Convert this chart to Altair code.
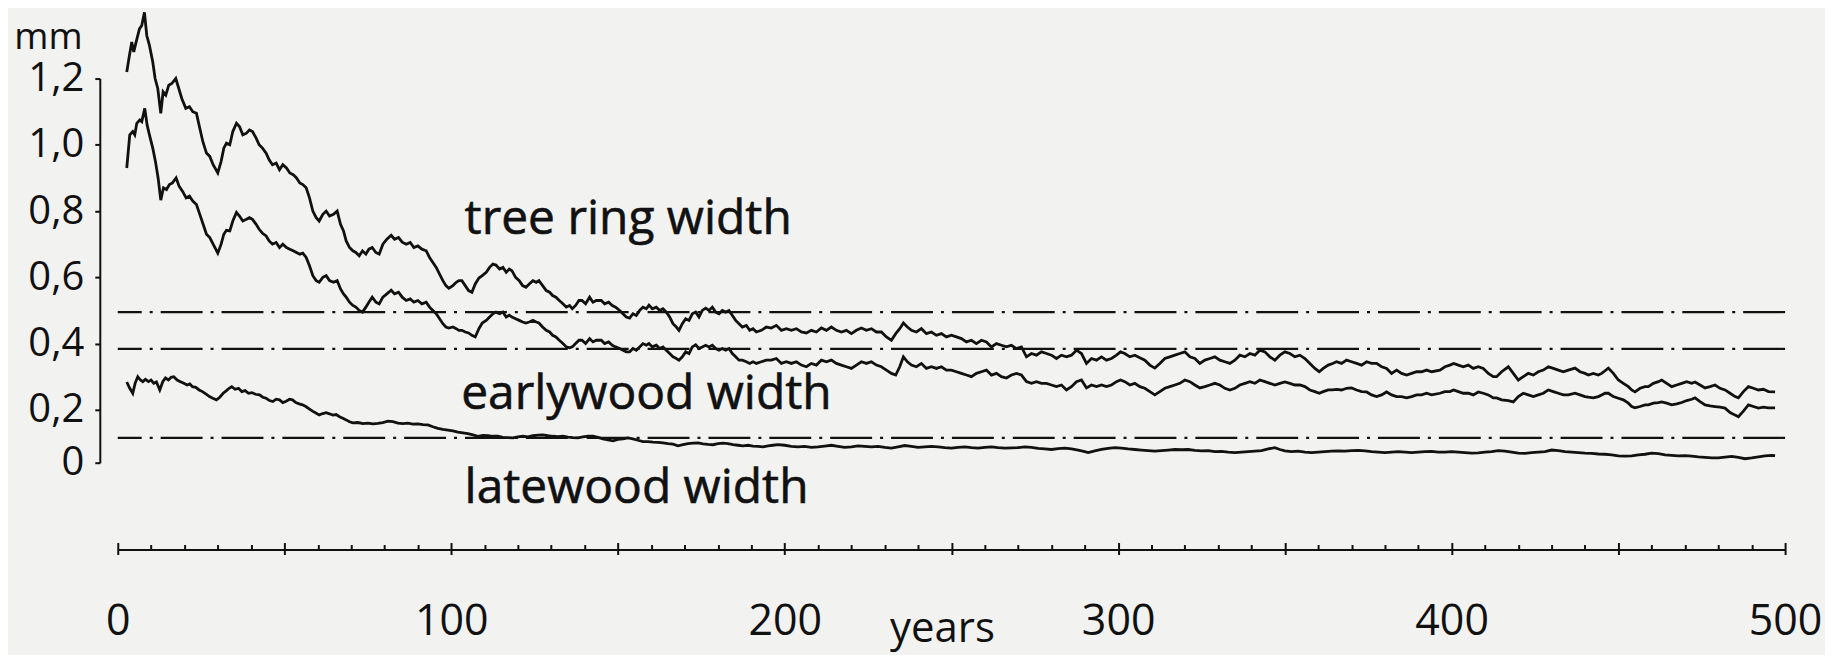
import altair as alt
import pandas as pd

# ---------------- data ----------------
TREE_RING = [
    (2.7, 1.22), (3.5, 1.27), (4.2, 1.31), (4.8, 1.28), (5.5, 1.31), (6.5, 1.35), (7.2, 1.36), (8.0, 1.40),
    (8.7, 1.33), (9.5, 1.30), (10.5, 1.25), (11.2, 1.20), (12.0, 1.17), (12.9, 1.095), (13.6, 1.16), (14.4, 1.15),
    (15.3, 1.18), (16.2, 1.185), (17.4, 1.20), (18.3, 1.17), (19.2, 1.14), (20.4, 1.11), (21.5, 1.115), (22.5, 1.10),
    (23.6, 1.095), (24.6, 1.05), (25.5, 1.01), (26.6, 0.975), (27.6, 0.965), (28.6, 0.94), (30.0, 0.915), (31.0, 0.95),
    (31.8, 0.99), (32.6, 1.005), (33.6, 1.0), (34.5, 1.04), (35.6, 1.065), (36.5, 1.055), (37.5, 1.03), (38.6, 1.035),
    (39.5, 1.045), (40.4, 1.04), (41.5, 1.02), (42.4, 1.0), (43.4, 0.99), (44.5, 0.975), (45.4, 0.955), (46.4, 0.94),
    (47.5, 0.945), (48.5, 0.925), (49.5, 0.94), (50.6, 0.93), (51.6, 0.915), (52.6, 0.91), (53.6, 0.90), (54.6, 0.885),
    (55.5, 0.88), (56.5, 0.87), (57.5, 0.84), (58.5, 0.80), (59.5, 0.78), (60.4, 0.77), (61.5, 0.79), (62.5, 0.80),
    (63.5, 0.785), (64.7, 0.79), (65.8, 0.80), (66.8, 0.76), (67.7, 0.74), (68.5, 0.71), (69.5, 0.69), (70.5, 0.68),
    (71.4, 0.675), (72.4, 0.665), (73.4, 0.68), (74.4, 0.67), (75.3, 0.685), (76.3, 0.69), (77.4, 0.675), (78.4, 0.67),
    (79.5, 0.70), (80.7, 0.715), (82.0, 0.727), (83.0, 0.715), (84.2, 0.72), (85.3, 0.706), (86.5, 0.70), (87.7, 0.705),
    (88.8, 0.69), (90.0, 0.695), (91.2, 0.685), (92.5, 0.68), (93.5, 0.66), (94.5, 0.645), (95.5, 0.63), (96.5, 0.61),
    (97.5, 0.59), (98.4, 0.575), (99.3, 0.567), (100.5, 0.575), (101.5, 0.585), (102.3, 0.59), (103.2, 0.59), (104.2, 0.575),
    (105.2, 0.56), (106.2, 0.555), (107.2, 0.58), (108.3, 0.598), (109.3, 0.605), (110.5, 0.615), (111.5, 0.63), (112.5, 0.64),
    (113.4, 0.637), (114.5, 0.625), (115.5, 0.63), (116.5, 0.615), (117.4, 0.625), (118.2, 0.62), (119.3, 0.60), (120.4, 0.59),
    (121.4, 0.575), (122.4, 0.57), (123.4, 0.58), (124.5, 0.59), (125.5, 0.585), (126.3, 0.59), (127.4, 0.575), (128.5, 0.56),
    (129.5, 0.555), (130.4, 0.545), (131.4, 0.54), (132.4, 0.53), (133.5, 0.52), (134.5, 0.51), (135.5, 0.515), (136.3, 0.505),
    (137.3, 0.515), (138.3, 0.53), (139.2, 0.53), (140.3, 0.52), (141.5, 0.54), (142.5, 0.525), (143.5, 0.53), (145.0, 0.53),
    (146.0, 0.52), (147.2, 0.525), (148.3, 0.515), (149.3, 0.51), (150.5, 0.50), (151.5, 0.49), (152.5, 0.48), (153.5, 0.477),
    (154.5, 0.49), (155.5, 0.485), (156.5, 0.50), (157.5, 0.51), (158.5, 0.505), (159.3, 0.516), (160.3, 0.505), (161.5, 0.51),
    (162.5, 0.50), (163.5, 0.505), (164.5, 0.495), (165.5, 0.48), (166.5, 0.46), (167.5, 0.45), (168.3, 0.44), (169.3, 0.46),
    (170.3, 0.475), (171.3, 0.47), (172.3, 0.49), (173.3, 0.495), (174.3, 0.48), (175.3, 0.50), (176.3, 0.507), (177.3, 0.50),
    (178.3, 0.51), (179.3, 0.495), (180.3, 0.49), (181.3, 0.50), (182.3, 0.495), (183.3, 0.50), (184.3, 0.485), (185.3, 0.47),
    (186.3, 0.46), (187.3, 0.45), (188.5, 0.455), (189.5, 0.44), (190.5, 0.445), (191.5, 0.435), (193.0, 0.44), (194.5, 0.45),
    (196.0, 0.447), (197.5, 0.455), (199.0, 0.44), (200.5, 0.445), (202.0, 0.44), (203.5, 0.445), (205.0, 0.435), (206.5, 0.432),
    (208.0, 0.44), (209.5, 0.435), (211.0, 0.447), (212.5, 0.44), (214.0, 0.45), (215.5, 0.44), (217.0, 0.435), (218.5, 0.44),
    (220.0, 0.43), (221.5, 0.44), (223.0, 0.447), (224.5, 0.44), (226.0, 0.445), (227.5, 0.435), (229.0, 0.435), (230.5, 0.42),
    (232.0, 0.41), (233.3, 0.43), (234.5, 0.445), (235.6, 0.462), (236.8, 0.45), (238.0, 0.44), (239.5, 0.435), (241.0, 0.445),
    (242.5, 0.43), (244.0, 0.435), (245.5, 0.425), (247.0, 0.43), (248.5, 0.42), (250.0, 0.425), (251.5, 0.42), (253.0, 0.415),
    (254.5, 0.405), (256.0, 0.41), (257.5, 0.40), (259.0, 0.41), (260.5, 0.405), (262.0, 0.39), (263.5, 0.40), (265.0, 0.395),
    (266.5, 0.39), (268.0, 0.395), (269.5, 0.385), (271.0, 0.39), (272.5, 0.36), (274.0, 0.37), (275.5, 0.365), (277.0, 0.375),
    (278.5, 0.37), (280.0, 0.365), (281.5, 0.355), (283.0, 0.365), (284.5, 0.36), (286.0, 0.365), (287.5, 0.38), (289.0, 0.37),
    (290.5, 0.34), (292.0, 0.355), (293.5, 0.35), (295.0, 0.36), (296.5, 0.35), (298.0, 0.355), (299.5, 0.365), (300.7, 0.375),
    (302.0, 0.37), (303.5, 0.36), (305.0, 0.365), (306.5, 0.357), (308.0, 0.35), (309.5, 0.335), (311.0, 0.326), (312.5, 0.34),
    (314.0, 0.355), (315.5, 0.36), (317.0, 0.365), (318.5, 0.37), (320.0, 0.375), (321.5, 0.36), (323.0, 0.355), (324.5, 0.34),
    (326.0, 0.35), (327.5, 0.355), (329.0, 0.36), (330.5, 0.35), (332.0, 0.345), (333.5, 0.34), (335.0, 0.35), (336.5, 0.365),
    (338.0, 0.36), (339.5, 0.37), (341.0, 0.365), (342.5, 0.38), (344.0, 0.375), (345.5, 0.36), (347.0, 0.35), (348.5, 0.365),
    (350.0, 0.375), (351.5, 0.37), (353.0, 0.36), (354.5, 0.365), (356.0, 0.355), (357.5, 0.34), (359.0, 0.325), (360.3, 0.315),
    (361.5, 0.325), (363.0, 0.335), (364.3, 0.34), (365.5, 0.345), (367.0, 0.34), (368.5, 0.35), (370.0, 0.345), (371.5, 0.34),
    (373.0, 0.335), (374.5, 0.345), (376.0, 0.34), (377.5, 0.34), (379.0, 0.33), (380.5, 0.325), (382.0, 0.31), (383.5, 0.32),
    (385.0, 0.31), (386.5, 0.305), (388.0, 0.31), (389.5, 0.315), (391.0, 0.315), (392.5, 0.32), (394.0, 0.315), (396.5, 0.32),
    (398.0, 0.33), (399.5, 0.335), (400.6, 0.34), (402.0, 0.335), (403.5, 0.33), (405.0, 0.335), (406.5, 0.325), (408.0, 0.33),
    (409.5, 0.325), (411.0, 0.31), (412.5, 0.30), (413.5, 0.30), (415.0, 0.315), (417.0, 0.33), (418.5, 0.31), (420.0, 0.29),
    (421.5, 0.30), (423.0, 0.31), (424.5, 0.305), (426.0, 0.315), (427.5, 0.32), (429.0, 0.33), (430.5, 0.325), (432.0, 0.32),
    (433.5, 0.315), (435.0, 0.32), (437.0, 0.326), (438.5, 0.315), (440.0, 0.31), (441.0, 0.305), (442.5, 0.31), (444.0, 0.305),
    (445.0, 0.31), (446.0, 0.318), (447.0, 0.326), (448.5, 0.31), (450.0, 0.29), (451.5, 0.28), (453.0, 0.27), (454.0, 0.26),
    (455.0, 0.254), (456.5, 0.265), (458.0, 0.27), (459.0, 0.27), (460.5, 0.28), (462.0, 0.285), (463.0, 0.29), (464.5, 0.28),
    (466.0, 0.27), (467.5, 0.275), (469.0, 0.28), (470.5, 0.285), (472.0, 0.28), (473.0, 0.284), (474.5, 0.275), (476.0, 0.266),
    (477.5, 0.27), (479.0, 0.275), (480.5, 0.265), (482.0, 0.26), (483.5, 0.25), (485.0, 0.24), (486.0, 0.236), (487.5, 0.255),
    (489.0, 0.27), (490.5, 0.265), (492.0, 0.26), (493.5, 0.262), (495.0, 0.255), (497.0, 0.254),
]

EARLYWOOD = [
    (2.7, 0.93), (3.6, 1.03), (4.5, 1.04), (5.1, 1.03), (5.7, 1.065), (6.6, 1.075), (7.2, 1.07), (8.1, 1.11),
    (8.8, 1.06), (9.5, 1.03), (10.5, 0.99), (11.3, 0.95), (12.1, 0.90), (12.9, 0.833), (13.7, 0.87), (14.6, 0.865),
    (15.5, 0.88), (16.4, 0.885), (17.5, 0.90), (18.4, 0.875), (19.4, 0.86), (20.5, 0.84), (21.5, 0.845), (22.5, 0.83),
    (23.6, 0.82), (24.6, 0.79), (25.6, 0.76), (26.6, 0.73), (27.6, 0.72), (28.6, 0.70), (30.0, 0.673), (31.0, 0.70),
    (31.8, 0.73), (32.6, 0.742), (33.6, 0.74), (34.5, 0.77), (35.6, 0.796), (36.5, 0.785), (37.5, 0.77), (38.6, 0.775),
    (39.5, 0.78), (40.4, 0.775), (41.5, 0.76), (42.4, 0.745), (43.4, 0.733), (44.5, 0.725), (45.4, 0.71), (46.4, 0.70),
    (47.5, 0.705), (48.5, 0.69), (49.5, 0.70), (50.6, 0.69), (51.6, 0.685), (52.6, 0.68), (53.6, 0.675), (54.6, 0.67),
    (55.5, 0.673), (56.5, 0.66), (57.5, 0.635), (58.5, 0.605), (59.5, 0.59), (60.4, 0.585), (61.5, 0.60), (62.5, 0.605),
    (63.5, 0.59), (64.7, 0.585), (65.8, 0.59), (66.8, 0.565), (67.7, 0.55), (68.5, 0.54), (69.5, 0.525), (70.5, 0.515),
    (71.4, 0.51), (72.4, 0.50), (73.4, 0.495), (74.4, 0.51), (75.3, 0.525), (76.3, 0.54), (77.4, 0.525), (78.4, 0.52),
    (79.5, 0.54), (80.7, 0.55), (82.0, 0.561), (83.0, 0.55), (84.2, 0.555), (85.3, 0.54), (86.5, 0.53), (87.7, 0.535),
    (88.8, 0.525), (90.0, 0.53), (91.2, 0.52), (92.5, 0.525), (93.5, 0.51), (94.5, 0.50), (95.5, 0.49), (96.5, 0.475),
    (97.5, 0.46), (98.4, 0.45), (99.3, 0.447), (100.5, 0.45), (101.5, 0.445), (102.3, 0.44), (103.2, 0.44), (104.2, 0.435),
    (105.2, 0.432), (106.2, 0.425), (107.2, 0.42), (108.3, 0.445), (109.3, 0.462), (110.5, 0.47), (111.5, 0.48), (112.5, 0.49),
    (113.4, 0.495), (114.5, 0.49), (115.5, 0.495), (116.5, 0.48), (117.4, 0.486), (118.2, 0.48), (119.3, 0.475), (120.4, 0.47),
    (121.4, 0.465), (122.4, 0.462), (123.4, 0.465), (124.5, 0.47), (125.5, 0.465), (126.3, 0.462), (127.4, 0.45), (128.5, 0.44),
    (129.5, 0.435), (130.4, 0.425), (131.4, 0.42), (132.4, 0.41), (133.5, 0.40), (134.5, 0.39), (135.5, 0.387), (136.3, 0.39),
    (137.3, 0.40), (138.3, 0.41), (139.2, 0.41), (140.3, 0.40), (141.5, 0.415), (142.5, 0.405), (143.5, 0.41), (145.0, 0.41),
    (146.0, 0.40), (147.2, 0.405), (148.3, 0.395), (149.3, 0.39), (150.5, 0.385), (151.5, 0.38), (152.5, 0.375), (153.5, 0.375),
    (154.5, 0.385), (155.5, 0.38), (156.5, 0.39), (157.5, 0.40), (158.5, 0.395), (159.3, 0.40), (160.3, 0.39), (161.5, 0.395),
    (162.5, 0.385), (163.5, 0.39), (164.5, 0.38), (165.5, 0.37), (166.5, 0.36), (167.5, 0.355), (168.3, 0.35), (169.3, 0.36),
    (170.3, 0.375), (171.3, 0.37), (172.3, 0.39), (173.3, 0.396), (174.3, 0.385), (175.3, 0.39), (176.3, 0.395), (177.3, 0.39),
    (178.3, 0.395), (179.3, 0.385), (180.3, 0.38), (181.3, 0.385), (182.3, 0.38), (183.3, 0.385), (184.3, 0.37), (185.3, 0.36),
    (186.3, 0.35), (187.3, 0.35), (188.5, 0.345), (189.5, 0.34), (190.5, 0.345), (191.5, 0.34), (193.0, 0.345), (194.5, 0.35),
    (196.0, 0.35), (197.5, 0.355), (199.0, 0.34), (200.5, 0.345), (202.0, 0.34), (203.5, 0.345), (205.0, 0.335), (206.5, 0.33),
    (208.0, 0.34), (209.5, 0.335), (211.0, 0.35), (212.5, 0.345), (214.0, 0.35), (215.5, 0.34), (217.0, 0.335), (218.5, 0.33),
    (220.0, 0.325), (221.5, 0.335), (223.0, 0.345), (224.5, 0.34), (226.0, 0.345), (227.5, 0.335), (229.0, 0.33), (230.5, 0.32),
    (232.0, 0.31), (233.3, 0.305), (234.5, 0.33), (235.6, 0.36), (236.8, 0.345), (238.0, 0.335), (239.5, 0.33), (241.0, 0.34),
    (242.5, 0.325), (244.0, 0.33), (245.5, 0.325), (247.0, 0.33), (248.5, 0.32), (250.0, 0.32), (251.5, 0.315), (253.0, 0.31),
    (254.5, 0.305), (256.0, 0.30), (257.5, 0.31), (259.0, 0.315), (260.5, 0.32), (262.0, 0.305), (263.5, 0.31), (265.0, 0.30),
    (266.5, 0.296), (268.0, 0.305), (269.5, 0.31), (271.0, 0.305), (272.5, 0.285), (274.0, 0.28), (275.5, 0.285), (277.0, 0.28),
    (278.5, 0.28), (280.0, 0.275), (281.5, 0.27), (283.0, 0.275), (284.5, 0.26), (286.0, 0.27), (287.5, 0.285), (289.0, 0.29),
    (290.5, 0.266), (292.0, 0.275), (293.5, 0.27), (295.0, 0.275), (296.5, 0.27), (298.0, 0.275), (299.5, 0.285), (300.7, 0.29),
    (302.0, 0.285), (303.5, 0.275), (305.0, 0.28), (306.5, 0.27), (308.0, 0.265), (309.5, 0.255), (311.0, 0.245), (312.5, 0.255),
    (314.0, 0.265), (315.5, 0.27), (317.0, 0.275), (318.5, 0.28), (320.0, 0.29), (321.5, 0.285), (323.0, 0.275), (324.5, 0.266),
    (326.0, 0.27), (327.5, 0.275), (329.0, 0.28), (330.5, 0.275), (332.0, 0.265), (333.5, 0.26), (335.0, 0.265), (336.5, 0.275),
    (338.0, 0.28), (339.5, 0.285), (341.0, 0.28), (342.5, 0.29), (344.0, 0.285), (345.5, 0.28), (347.0, 0.275), (348.5, 0.28),
    (350.0, 0.284), (351.5, 0.28), (353.0, 0.275), (354.5, 0.275), (356.0, 0.27), (357.5, 0.26), (359.0, 0.255), (360.3, 0.25),
    (361.5, 0.255), (363.0, 0.26), (364.3, 0.26), (365.5, 0.262), (367.0, 0.26), (368.5, 0.265), (370.0, 0.266), (371.5, 0.26),
    (373.0, 0.255), (374.5, 0.254), (376.0, 0.245), (377.5, 0.24), (379.0, 0.245), (380.5, 0.254), (382.0, 0.245), (383.5, 0.24),
    (385.0, 0.24), (386.5, 0.236), (388.0, 0.24), (389.5, 0.245), (391.0, 0.245), (392.5, 0.25), (394.0, 0.245), (396.5, 0.25),
    (398.0, 0.255), (399.5, 0.255), (400.6, 0.26), (402.0, 0.255), (403.5, 0.25), (405.0, 0.25), (406.5, 0.245), (408.0, 0.254),
    (409.5, 0.25), (411.0, 0.245), (412.5, 0.236), (413.5, 0.236), (415.0, 0.23), (417.0, 0.228), (418.5, 0.224), (420.0, 0.24),
    (421.5, 0.25), (423.0, 0.245), (424.5, 0.24), (426.0, 0.245), (427.5, 0.25), (429.0, 0.26), (430.5, 0.255), (432.0, 0.25),
    (433.5, 0.245), (435.0, 0.245), (437.0, 0.25), (438.5, 0.245), (440.0, 0.24), (441.0, 0.238), (442.5, 0.236), (444.0, 0.24),
    (445.0, 0.245), (446.0, 0.25), (447.0, 0.25), (448.5, 0.24), (450.0, 0.235), (451.5, 0.23), (453.0, 0.22), (454.0, 0.21),
    (455.0, 0.206), (456.5, 0.21), (458.0, 0.215), (459.0, 0.215), (460.5, 0.22), (462.0, 0.222), (463.0, 0.224), (464.5, 0.22),
    (466.0, 0.215), (467.5, 0.218), (469.0, 0.222), (470.5, 0.228), (472.0, 0.232), (473.0, 0.236), (474.5, 0.225), (476.0, 0.215),
    (477.5, 0.212), (479.0, 0.21), (480.5, 0.208), (482.0, 0.205), (483.5, 0.19), (485.0, 0.18), (486.0, 0.174), (487.5, 0.195),
    (489.0, 0.215), (490.5, 0.21), (492.0, 0.205), (493.5, 0.208), (495.0, 0.206), (497.0, 0.206),
]

LATEWOOD = [
    (2.7, 0.284), (3.6, 0.265), (4.5, 0.25), (5.2, 0.28), (6.0, 0.30), (6.8, 0.29), (7.5, 0.285), (8.3, 0.292),
    (9.2, 0.285), (10.0, 0.29), (10.8, 0.28), (11.6, 0.284), (12.6, 0.26), (13.5, 0.285), (14.3, 0.296), (15.2, 0.29),
    (16.0, 0.298), (16.8, 0.30), (17.8, 0.29), (18.8, 0.285), (19.8, 0.28), (20.8, 0.275), (21.6, 0.278), (22.4, 0.27),
    (23.4, 0.268), (24.4, 0.26), (25.4, 0.255), (26.4, 0.248), (27.5, 0.24), (28.5, 0.235), (29.6, 0.23), (30.6, 0.238),
    (31.6, 0.25), (32.6, 0.258), (33.4, 0.265), (34.2, 0.27), (35.2, 0.262), (36.2, 0.265), (37.2, 0.255), (38.2, 0.258),
    (39.2, 0.25), (40.2, 0.252), (41.3, 0.247), (42.5, 0.245), (43.5, 0.238), (44.5, 0.235), (45.5, 0.228), (46.5, 0.225),
    (47.5, 0.232), (48.5, 0.23), (49.5, 0.222), (50.5, 0.226), (51.5, 0.232), (52.4, 0.23), (53.4, 0.222), (54.4, 0.218),
    (55.4, 0.215), (56.4, 0.21), (57.4, 0.203), (58.4, 0.195), (59.4, 0.188), (60.4, 0.181), (61.5, 0.186), (62.5, 0.189),
    (63.5, 0.185), (64.5, 0.18), (65.5, 0.182), (66.5, 0.174), (67.5, 0.168), (68.5, 0.162), (69.5, 0.155), (70.5, 0.151),
    (72.0, 0.152), (73.5, 0.148), (75.0, 0.15), (76.5, 0.147), (78.0, 0.149), (79.5, 0.152), (81.0, 0.157), (82.5, 0.155),
    (84.0, 0.15), (85.5, 0.148), (87.0, 0.15), (88.5, 0.146), (90.0, 0.147), (91.5, 0.144), (93.0, 0.143), (94.5, 0.136),
    (96.0, 0.13), (97.5, 0.126), (99.0, 0.123), (100.5, 0.12), (102.0, 0.116), (103.5, 0.113), (105.0, 0.11), (106.5, 0.105),
    (108.0, 0.10), (109.5, 0.103), (111.0, 0.102), (112.5, 0.10), (114.0, 0.10), (115.5, 0.096), (117.0, 0.095), (118.5, 0.094),
    (120.0, 0.098), (121.5, 0.10), (123.0, 0.098), (124.5, 0.102), (126.0, 0.104), (127.5, 0.105), (129.0, 0.102), (130.5, 0.10),
    (132.0, 0.099), (133.5, 0.10), (135.0, 0.097), (136.5, 0.095), (138.0, 0.094), (139.5, 0.098), (141.0, 0.10), (142.5, 0.10),
    (144.0, 0.096), (145.5, 0.09), (147.0, 0.086), (148.5, 0.083), (150.0, 0.088), (151.5, 0.09), (153.0, 0.094), (154.5, 0.09),
    (156.0, 0.085), (157.5, 0.08), (159.0, 0.08), (160.5, 0.078), (162.0, 0.077), (163.5, 0.075), (165.0, 0.072), (166.5, 0.07),
    (168.0, 0.064), (169.5, 0.068), (171.0, 0.072), (172.5, 0.074), (174.0, 0.075), (175.5, 0.071), (177.0, 0.069), (178.5, 0.068),
    (180.0, 0.072), (181.5, 0.074), (183.0, 0.072), (184.5, 0.068), (186.0, 0.066), (187.5, 0.064), (189.0, 0.066), (190.5, 0.063),
    (192.0, 0.062), (193.5, 0.06), (195.0, 0.064), (196.5, 0.066), (198.0, 0.068), (200.0, 0.066), (202.0, 0.062), (204.0, 0.06),
    (206.0, 0.062), (208.0, 0.058), (210.0, 0.06), (212.0, 0.063), (214.0, 0.066), (216.0, 0.062), (218.0, 0.058), (220.0, 0.06),
    (222.0, 0.064), (224.0, 0.062), (226.0, 0.06), (228.0, 0.062), (230.0, 0.058), (232.0, 0.055), (234.0, 0.06), (236.0, 0.065),
    (238.0, 0.062), (240.0, 0.058), (242.0, 0.06), (244.0, 0.062), (246.0, 0.06), (248.0, 0.057), (250.0, 0.055), (252.0, 0.058),
    (254.0, 0.06), (256.0, 0.057), (258.0, 0.055), (260.0, 0.058), (262.0, 0.06), (264.0, 0.057), (266.0, 0.055), (268.0, 0.056),
    (270.0, 0.057), (272.0, 0.06), (274.0, 0.058), (276.0, 0.054), (278.0, 0.052), (280.0, 0.05), (282.0, 0.053), (284.0, 0.055),
    (286.0, 0.052), (288.0, 0.048), (290.0, 0.042), (291.0, 0.038), (293.0, 0.045), (295.0, 0.05), (297.0, 0.054), (299.0, 0.057),
    (301.0, 0.055), (303.0, 0.052), (305.0, 0.05), (307.0, 0.048), (309.0, 0.046), (311.0, 0.044), (313.0, 0.046), (315.0, 0.048),
    (317.0, 0.05), (319.0, 0.049), (321.0, 0.05), (323.0, 0.047), (325.0, 0.045), (327.0, 0.046), (329.0, 0.042), (331.0, 0.043),
    (333.0, 0.04), (335.0, 0.038), (337.0, 0.04), (339.0, 0.042), (341.0, 0.044), (343.0, 0.046), (345.0, 0.052), (347.0, 0.057),
    (348.5, 0.05), (350.0, 0.045), (352.0, 0.042), (354.0, 0.044), (356.0, 0.04), (358.0, 0.038), (360.0, 0.04), (362.0, 0.042),
    (364.0, 0.044), (366.0, 0.045), (368.0, 0.044), (370.0, 0.046), (372.0, 0.047), (374.0, 0.045), (376.0, 0.042), (378.0, 0.04),
    (380.0, 0.038), (382.0, 0.04), (384.0, 0.042), (386.0, 0.04), (388.0, 0.038), (390.0, 0.04), (392.0, 0.042), (394.0, 0.043),
    (396.0, 0.04), (398.0, 0.04), (400.0, 0.042), (402.0, 0.04), (404.0, 0.038), (406.0, 0.036), (408.0, 0.037), (410.0, 0.04),
    (412.0, 0.042), (414.0, 0.046), (416.0, 0.044), (418.0, 0.04), (420.0, 0.036), (422.0, 0.035), (424.0, 0.038), (426.0, 0.04),
    (428.0, 0.042), (430.0, 0.048), (432.0, 0.046), (434.0, 0.042), (436.0, 0.04), (438.0, 0.038), (440.0, 0.036), (442.0, 0.035),
    (444.0, 0.033), (446.0, 0.032), (448.0, 0.03), (450.0, 0.026), (452.0, 0.025), (454.0, 0.026), (456.0, 0.03), (458.0, 0.032),
    (460.0, 0.036), (462.0, 0.034), (464.0, 0.03), (466.0, 0.028), (468.0, 0.026), (470.0, 0.027), (472.0, 0.025), (474.0, 0.022),
    (476.0, 0.02), (478.0, 0.018), (480.0, 0.018), (482.0, 0.021), (484.0, 0.024), (486.0, 0.02), (488.0, 0.015), (490.0, 0.018),
    (492.0, 0.022), (494.0, 0.026), (496.0, 0.028), (497.0, 0.027),
]

REF_LEVELS = [0.495, 0.384, 0.094]
Y_TICKS = [0, 0.2, 0.4, 0.6, 0.8, 1.0, 1.2]
X_TICKS = [0, 50, 100, 150, 200, 250, 300, 350, 400, 450, 500]
X_MINOR = list(range(0, 501, 10))
LABEL_TEXTS = ["tree ring width", "earlywood width", "latewood width"]
LABEL_YEAR = [104, 103, 104]
LABEL_MM = [0.730, 0.203, -0.151]

# ---------------- styling ----------------
FONT = "Open Sans"
INK = "#111111"
BG = "#f2f2f0"


def frame(pairs):
    return pd.DataFrame(pairs, columns=["year", "mm"])


xs = alt.Scale(domain=[0, 500], nice=False, zero=False)
ys = alt.Scale(domain=[0, 0.2, 1.2], range=[385, 332, 0], nice=False, zero=False)

y_axis = alt.Axis(
    values=Y_TICKS,
    labelExpr="datum.value == 0 ? '0' : replace(format(datum.value, '.1f'), '.', ',')",
    title="mm", titleAngle=0, titleX=-52, titleY=-30, titleAlign="center",
    titleBaseline="alphabetic", titleFont=FONT, titleFontSize=37, titleFontWeight="normal",
    titleColor=INK, labelFont=FONT, labelFontSize=40, labelColor=INK, labelPadding=11,
    labelFlush=False, tickSize=5, tickWidth=2, tickColor=INK, domainColor=INK,
    domainWidth=2, offset=18, grid=False,
)

x_axis = alt.Axis(
    orient="bottom", values=X_TICKS,
    labelExpr="datum.value % 100 == 0 ? datum.label : ''",
    title="years", titleX=826, titleY=92, titleAlign="center", titleBaseline="alphabetic",
    titleFont=FONT, titleFontSize=42, titleFontWeight="normal", titleColor=INK,
    labelFont=FONT, labelFontSize=43, labelColor=INK, labelPadding=46, labelFlush=False,
    tickSize=5, tickWidth=2, tickColor=INK, domainColor=INK, domainWidth=2,
    offset=87, grid=False,
)

x_minor = alt.Axis(
    orient="top", values=X_MINOR, labels=False, domain=False, title=None,
    tickSize={"condition": {"test": "datum.value % 50 === 0", "value": 7}, "value": 5},
    tickWidth=2, tickColor=INK, offset=-472, grid=False,
)

rules = alt.Chart(pd.DataFrame({"level": REF_LEVELS})).mark_rule(
    strokeDash=[42, 8, 3, 8], strokeWidth=2.2, color=INK
).encode(y=alt.Y("level:Q", scale=ys, axis=None))

tr = alt.Chart(frame(TREE_RING)).mark_line(color=INK, strokeWidth=2.8).encode(
    x=alt.X("year:Q", scale=xs, axis=x_axis),
    y=alt.Y("mm:Q", scale=ys, axis=y_axis),
)
ew = alt.Chart(frame(EARLYWOOD)).mark_line(color=INK, strokeWidth=2.8).encode(
    x=alt.X("year:Q", scale=xs, axis=x_minor),
    y=alt.Y("mm:Q", scale=ys, axis=None),
)
lw = alt.Chart(frame(LATEWOOD)).mark_line(color=INK, strokeWidth=2.8).encode(
    x=alt.X("year:Q", scale=xs, axis=None),
    y=alt.Y("mm:Q", scale=ys, axis=None),
)

texts = []
for name, yr, mm in zip(LABEL_TEXTS, LABEL_YEAR, LABEL_MM):
    texts.append(
        alt.Chart(pd.DataFrame({"label": [name]})).mark_text(
            font=FONT, fontSize=48, color=INK, align="left", baseline="alphabetic",
            stroke=INK, strokeWidth=0.6,
        ).encode(
            x=alt.XDatum(yr, axis=None),
            y=alt.YDatum(mm, axis=None),
            text="label:N",
        )
    )

chart = alt.layer(tr, rules, ew, lw, *texts).resolve_axis(
    x="independent", y="independent"
).properties(
    width=1671, height=385,
    autosize=alt.AutoSizeParams(type="none"),
    padding={"left": 110, "top": 70, "right": 40, "bottom": 192},
    background=BG,
).configure_view(stroke=None)

chart.save("out.html", embed_options={"renderer": "svg", "actions": False})
